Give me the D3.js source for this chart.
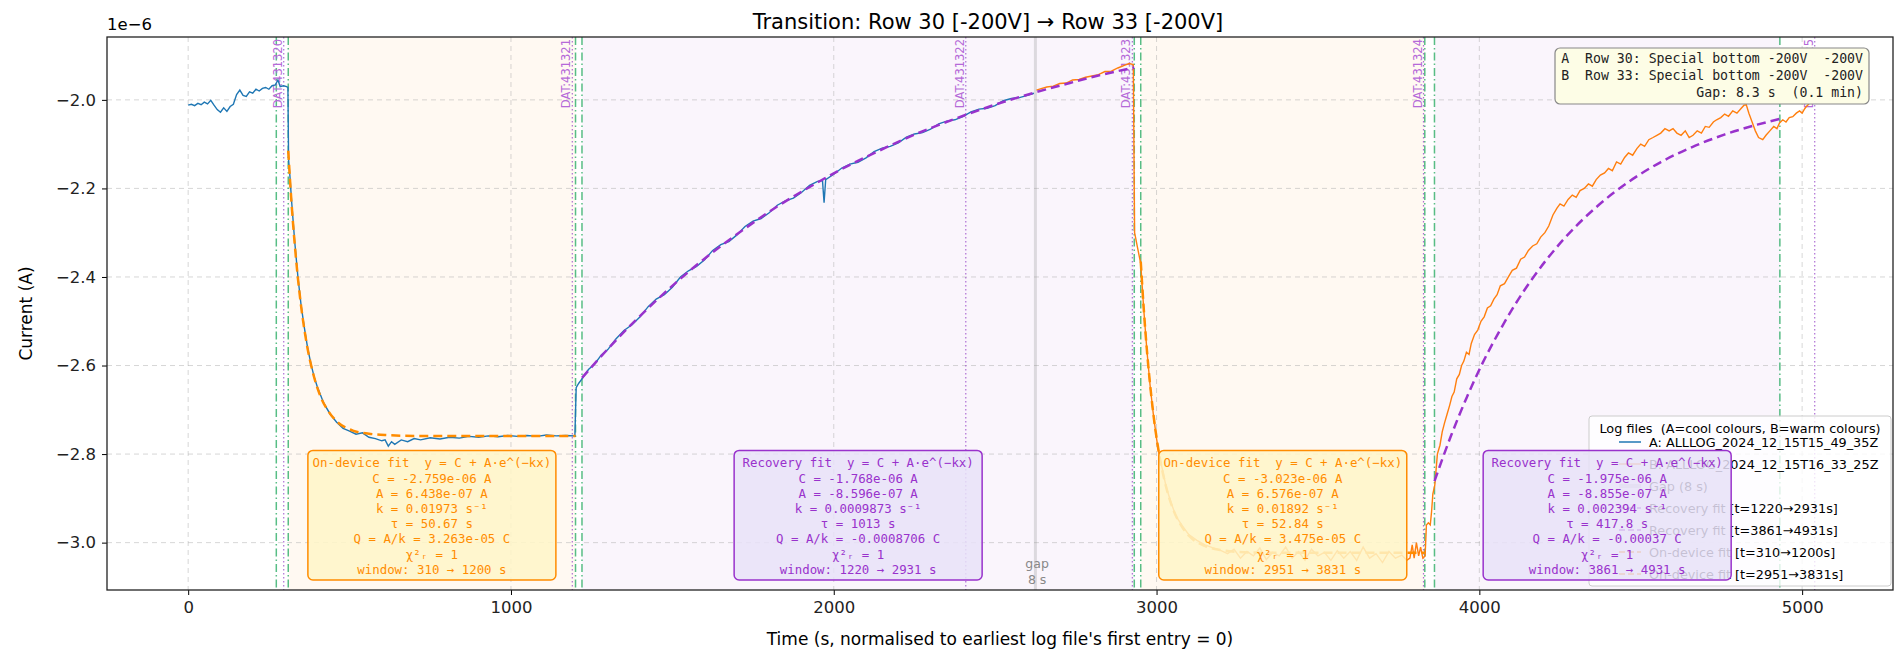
<!DOCTYPE html>
<html>
<head>
<meta charset="utf-8">
<script src="https://cdn.jsdelivr.net/npm/d3@7"></script>
<style>
  body { margin: 0; background: #fff; }
  svg text { font-family: "DejaVu Sans", sans-serif; white-space: pre; }
  svg text.mono { font-family: "DejaVu Sans Mono", monospace; }
</style>
</head>
<body>
<script>
// ---- data (current in units of 1e-6 A, time in s) ----
var logA = [[0,-2.012],[10,-2.010],[20,-2.013],[30,-2.008],[40,-2.011],[50,-2.005],[60,-2.009],[70,-2.001],[80,-2.012],
  [90,-2.022],[100,-2.028],[110,-2.018],[120,-2.026],[130,-2.015],[140,-2.010],[150,-1.988],[160,-1.978],[170,-1.990],
  [180,-1.992],[190,-1.982],[200,-1.985],[210,-1.976],[220,-1.980],[230,-1.974],[240,-1.972],[250,-1.976],[260,-1.968],
  [270,-1.966],[278,-1.955],[285,-1.970],[295,-1.968],[305,-1.970],[309,-1.972],
  [311,-2.135],[315,-2.17],[320,-2.225],[330,-2.32],[340,-2.40],[350,-2.465],[360,-2.515],[370,-2.56],[380,-2.595],
  [390,-2.625],[400,-2.648],[420,-2.685],[440,-2.71],[460,-2.728],[480,-2.742],[500,-2.748],[520,-2.755],[540,-2.752],
  [560,-2.762],[580,-2.765],[600,-2.77],[610,-2.768],[620,-2.782],[630,-2.772],[640,-2.778],[660,-2.768],[680,-2.772],
  [700,-2.765],[720,-2.768],[750,-2.763],[780,-2.766],[810,-2.762],[840,-2.764],[870,-2.760],[900,-2.762],[930,-2.759],
  [960,-2.761],[990,-2.758],[1020,-2.760],[1050,-2.758],[1080,-2.760],[1110,-2.757],[1140,-2.759],[1170,-2.758],[1198,-2.759],
  [1202,-2.650],[1210,-2.640],[1220,-2.630],[1240,-2.609],[1260,-2.596],[1280,-2.576],[1300,-2.564],[1325,-2.540],[1350,-2.521],
  [1375,-2.508],[1400,-2.490],[1425,-2.467],[1450,-2.450],[1475,-2.440],[1500,-2.423],[1525,-2.400],[1550,-2.386],
  [1575,-2.376],[1600,-2.361],[1625,-2.340],[1650,-2.327],[1675,-2.320],[1700,-2.305],[1725,-2.286],[1750,-2.274],
  [1775,-2.268],[1800,-2.255],[1825,-2.238],[1850,-2.228],[1875,-2.222],[1900,-2.209],[1925,-2.193],[1950,-2.184],
  [1965,-2.182],[1970,-2.232],[1975,-2.180],[2000,-2.168],[2025,-2.154],[2050,-2.145],[2075,-2.141],[2100,-2.131],
  [2125,-2.117],[2150,-2.109],[2175,-2.105],[2200,-2.097],[2225,-2.084],[2250,-2.077],[2275,-2.074],[2300,-2.066],
  [2325,-2.054],[2350,-2.048],[2375,-2.045],[2400,-2.038],[2425,-2.027],[2450,-2.021],[2475,-2.019],[2500,-2.013],
  [2525,-2.002],[2550,-1.997],[2575,-1.995],[2600,-1.990],[2620,-1.985]];

var logB = [[2628,-1.978],[2640,-1.975],[2660,-1.971],[2680,-1.969],[2700,-1.963],[2720,-1.962],[2740,-1.955],
  [2760,-1.954],[2780,-1.949],[2800,-1.946],[2820,-1.943],[2840,-1.936],[2860,-1.935],[2880,-1.928],[2900,-1.922],
  [2915,-1.918],[2928,-1.920],
  [2932,-2.30],[2940,-2.33],[2951,-2.37],[2960,-2.47],[2970,-2.565],[2980,-2.645],[2990,-2.71],[3000,-2.765],
  [3010,-2.81],[3020,-2.84],[3030,-2.875],[3045,-2.91],[3060,-2.94],[3080,-2.962],[3100,-2.982],[3125,-2.995],
  [3150,-3.005],[3175,-3.012],[3200,-3.018],[3220,-3.025],[3240,-3.015],[3260,-3.035],[3280,-3.02],[3300,-3.03],
  [3320,-3.012],[3340,-3.038],[3360,-3.022],[3380,-3.03],[3400,-3.01],[3420,-3.035],[3440,-3.02],[3460,-3.04],
  [3480,-3.015],[3500,-3.03],[3520,-3.022],[3540,-3.04],[3560,-3.018],[3580,-3.035],[3600,-3.02],[3620,-3.04],
  [3640,-3.01],[3660,-3.035],[3680,-3.025],[3700,-3.045],[3720,-3.02],[3740,-3.035],[3760,-3.028],[3775,-3.04],
  [3785,-3.035],[3792,-3.005],[3798,-3.035],[3805,-3.0],[3812,-3.03],[3818,-3.01],[3825,-3.035],[3832,-3.03],
  [3836,-2.96],[3842,-2.955],[3848,-2.96],[3852,-2.93],[3856,-2.89],[3862,-2.87],
  [3870,-2.80],[3878,-2.78],[3885,-2.75],[3892,-2.73],[3900,-2.71],[3908,-2.69],[3915,-2.67],[3922,-2.66],[3930,-2.63],
  [3938,-2.62],[3945,-2.60],[3952,-2.59],[3960,-2.57],[3968,-2.575],[3975,-2.55],[3985,-2.53],[3995,-2.52],[4005,-2.50],
  [4015,-2.49],[4025,-2.47],[4035,-2.465],[4045,-2.45],[4055,-2.44],[4065,-2.42],[4078,-2.415],[4090,-2.40],[4102,-2.385],
  [4115,-2.38],[4128,-2.36],[4140,-2.355],[4152,-2.34],[4165,-2.33],[4178,-2.325],[4190,-2.31],[4203,-2.30],[4215,-2.285],
  [4228,-2.26],[4240,-2.245],[4250,-2.235],[4262,-2.24],[4275,-2.225],[4288,-2.215],[4300,-2.22],[4312,-2.205],[4325,-2.20],
  [4338,-2.19],[4350,-2.195],[4362,-2.18],[4375,-2.17],[4388,-2.165],[4400,-2.155],[4412,-2.16],[4425,-2.14],[4438,-2.145],
  [4450,-2.13],[4462,-2.12],[4475,-2.125],[4488,-2.11],[4500,-2.10],[4512,-2.105],[4525,-2.09],[4538,-2.085],[4550,-2.08],
  [4562,-2.075],[4575,-2.065],[4588,-2.07],[4600,-2.065],[4612,-2.075],[4625,-2.08],[4638,-2.07],[4650,-2.085],[4662,-2.08],
  [4675,-2.07],[4688,-2.075],[4700,-2.06],[4712,-2.062],[4725,-2.05],[4735,-2.045],[4748,-2.04],[4760,-2.032],[4772,-2.037],
  [4785,-2.025],[4798,-2.03],[4810,-2.02],[4820,-2.012],[4827,-2.011],[4835,-2.03],[4845,-2.05],[4855,-2.07],[4865,-2.085],
  [4878,-2.09],[4888,-2.08],[4900,-2.07],[4912,-2.06],[4922,-2.065],[4930,-2.052],[4940,-2.045],[4950,-2.05],[4960,-2.04],
  [4971,-2.038],[4982,-2.03],[4992,-2.025],[5000,-2.03],[5008,-2.02],[5013,-2.015],[5020,-2.01],[5030,-2.0]];

// fitted curves, sampled
var fitOnA = [[310,-2.115],[320,-2.231],[330,-2.325],[340,-2.403],[350,-2.467],[360,-2.519],[370,-2.562],[390,-2.626],
  [410,-2.670],[435,-2.704],[460,-2.726],[510,-2.747],[560,-2.754],[610,-2.757],[710,-2.759],[1200,-2.759]];
var fitRecA = [[1220,-2.628],[1320,-2.547],[1420,-2.474],[1520,-2.407],[1620,-2.347],[1720,-2.293],[1820,-2.243],
  [1920,-2.199],[2020,-2.158],[2120,-2.122],[2220,-2.088],[2320,-2.058],[2420,-2.031],[2520,-2.006],[2620,-1.984],
  [2720,-1.964],[2820,-1.945],[2931,-1.927]];
var fitOnB = [[2951,-2.365],[2961,-2.479],[2971,-2.573],[2981,-2.650],[2991,-2.715],[3001,-2.768],[3011,-2.812],
  [3031,-2.878],[3051,-2.924],[3076,-2.961],[3101,-2.985],[3151,-3.008],[3201,-3.017],[3251,-3.021],[3351,-3.023],[3831,-3.023]];
var fitRecB = [[3861,-2.861],[3911,-2.761],[3961,-2.672],[4011,-2.593],[4061,-2.524],[4111,-2.462],[4161,-2.407],
  [4261,-2.315],[4361,-2.243],[4461,-2.186],[4561,-2.141],[4661,-2.106],[4761,-2.078],[4861,-2.056],[4931,-2.043]];

var onWindows = [[310,1200],[2951,3831]];
var recWindows = [[1220,2931],[3861,4931]];
var windowEdges = [273,310,1200,1220,2931,2951,3831,3861,4931];
var datMarks = [[296,'DAT:431320'],[1190,'DAT:431321'],[2409,'DAT:431322'],[2925,'DAT:431323'],[3827,'DAT:431324'],[5039,'DAT:431325']];
var gapAt = [2620,2628];

var onText = [
  ['On-device fit  y = C + A·e^(−kx)','C = -2.759e-06 A','A = 6.438e-07 A','k = 0.01973 s⁻¹','τ = 50.67 s','Q = A/k = 3.263e-05 C','χ²ᵣ = 1','window: 310 → 1200 s'],
  ['On-device fit  y = C + A·e^(−kx)','C = -3.023e-06 A','A = 6.576e-07 A','k = 0.01892 s⁻¹','τ = 52.84 s','Q = A/k = 3.475e-05 C','χ²ᵣ = 1','window: 2951 → 3831 s']];
var recText = [
  ['Recovery fit  y = C + A·e^(−kx)','C = -1.768e-06 A','A = -8.596e-07 A','k = 0.0009873 s⁻¹','τ = 1013 s','Q = A/k = -0.0008706 C','χ²ᵣ = 1','window: 1220 → 2931 s'],
  ['Recovery fit  y = C + A·e^(−kx)','C = -1.975e-06 A','A = -8.855e-07 A','k = 0.002394 s⁻¹','τ = 417.8 s','Q = A/k = -0.00037 C','χ²ᵣ = 1','window: 3861 → 4931 s']];
var infoLines = ['A  Row 30: Special bottom -200V  -200V','B  Row 33: Special bottom -200V  -200V','Gap: 8.3 s  (0.1 min)'];
var legendItems = [
  ['A: ALLLOG_2024_12_15T15_49_35Z','#1f77b4','solid'],
  ['B: ALLLOG_2024_12_15T16_33_25Z','#ff7f0e','solid'],
  ['Gap (8 s)','#bbbbbb','gap'],
  ['Recovery fit [t=1220→2931s]','#9932cc','dash'],
  ['Recovery fit [t=3861→4931s]','#9932cc','dash'],
  ['On-device fit [t=310→1200s]','#ff8c00','dash'],
  ['On-device fit [t=2951→3831s]','#ff8c00','dash']];
var xTicks = [0,1000,2000,3000,4000,5000];
var yTicks = [-3.0,-2.8,-2.6,-2.4,-2.2,-2.0];

// ---- layout ----
var W = 1897, H = 650;
var m = {left: 107, right: 4, top: 37, bottom: 60};
var svg = d3.select('body').append('svg').attr('width', W).attr('height', H);
var x = d3.scaleLinear().domain([-251.5, 5281.5]).range([m.left, W - m.right]);
var y = d3.scaleLinear().domain([-3.107, -1.858]).range([H - m.bottom, m.top]);
var x0 = m.left, x1 = W - m.right, y0 = m.top, y1 = H - m.bottom;

svg.append('defs').append('clipPath').attr('id', 'clip')
  .append('rect').attr('x', x0).attr('y', y0).attr('width', x1 - x0).attr('height', y1 - y0);
var g = svg.append('g').attr('clip-path', 'url(#clip)');

// spans
g.selectAll('rect.on').data(onWindows).enter().append('rect')
  .attr('x', d => x(d[0])).attr('width', d => x(d[1]) - x(d[0]))
  .attr('y', y0).attr('height', y1 - y0).attr('fill', '#ff8c00').attr('opacity', 0.05);
g.selectAll('rect.rec').data(recWindows).enter().append('rect')
  .attr('x', d => x(d[0])).attr('width', d => x(d[1]) - x(d[0]))
  .attr('y', y0).attr('height', y1 - y0).attr('fill', '#9932cc').attr('opacity', 0.05);

// grid
g.selectAll('line.gx').data(xTicks).enter().append('line')
  .attr('x1', d => x(d)).attr('x2', d => x(d)).attr('y1', y0).attr('y2', y1)
  .attr('stroke', '#b0b0b0').attr('stroke-opacity', 0.5).attr('stroke-dasharray', '5,4');
g.selectAll('line.gy').data(yTicks).enter().append('line')
  .attr('y1', d => y(d)).attr('y2', d => y(d)).attr('x1', x0).attr('x2', x1)
  .attr('stroke', '#b0b0b0').attr('stroke-opacity', 0.5).attr('stroke-dasharray', '5,4');

// gap band
g.append('rect').attr('x', x(gapAt[0])).attr('width', Math.max(3, x(gapAt[1]) - x(gapAt[0])))
  .attr('y', y0).attr('height', y1 - y0).attr('fill', '#999').attr('opacity', 0.3);

// window edges
g.selectAll('line.we').data(windowEdges).enter().append('line')
  .attr('x1', d => x(d)).attr('x2', d => x(d)).attr('y1', y0).attr('y2', y1)
  .attr('stroke', '#3cb371').attr('stroke-width', 1.5).attr('stroke-dasharray', '8,3,1.5,3').attr('opacity', 0.85);

// DAT markers
g.selectAll('line.dat').data(datMarks).enter().append('line')
  .attr('x1', d => x(d[0])).attr('x2', d => x(d[0])).attr('y1', y0).attr('y2', y1)
  .attr('stroke', '#9b4dca').attr('stroke-width', 1.2).attr('stroke-dasharray', '1.5,2.5').attr('opacity', 0.8);
g.selectAll('text.dat').data(datMarks).enter().append('text')
  .attr('transform', d => 'translate(' + (x(d[0]) - 2) + ',' + (y0 + 2) + ') rotate(-90)')
  .attr('text-anchor', 'end').attr('font-size', 11.5).attr('fill', '#b56ad8').text(d => d[1]);

// data lines
var line = d3.line().x(d => x(d[0])).y(d => y(d[1]));
g.append('path').datum(logA).attr('d', line).attr('fill', 'none').attr('stroke', '#1f77b4').attr('stroke-width', 1.4);
g.append('path').datum(logB).attr('d', line).attr('fill', 'none').attr('stroke', '#ff7f0e').attr('stroke-width', 1.4);

// fits
var fitLine = d3.line().x(d => x(d[0])).y(d => y(d[1])).curve(d3.curveMonotoneX);
[fitOnA, fitOnB].forEach(function (f) {
  g.append('path').datum(f).attr('d', fitLine).attr('fill', 'none')
    .attr('stroke', '#ff8c00').attr('stroke-width', 2.5).attr('stroke-dasharray', '9,5');
});
[fitRecA, fitRecB].forEach(function (f) {
  g.append('path').datum(f).attr('d', fitLine).attr('fill', 'none')
    .attr('stroke', '#9932cc').attr('stroke-width', 2.5).attr('stroke-dasharray', '9,5');
});

// gap text
g.append('text').attr('x', x(2630)).attr('y', y1 - 22).attr('text-anchor', 'middle')
  .attr('font-size', 12.5).attr('fill', '#888').text('gap');
g.append('text').attr('x', x(2630)).attr('y', y1 - 6).attr('text-anchor', 'middle')
  .attr('font-size', 12.5).attr('fill', '#888').text('8 s');

// legend
var lg = svg.append('g').attr('transform', 'translate(1589,416)');
lg.append('rect').attr('width', 302).attr('height', 170).attr('rx', 3)
  .attr('fill', '#fff').attr('fill-opacity', 0.8).attr('stroke', '#ccc');
lg.append('text').attr('x', 151).attr('y', 17).attr('text-anchor', 'middle').attr('font-size', 12.8)
  .text('Log files  (A=cool colours, B=warm colours)');
var li = lg.selectAll('g.li').data(legendItems).enter().append('g')
  .attr('transform', (d, i) => 'translate(0,' + (26 + i * 22) + ')');
li.append('line').attr('x1', 30).attr('x2', 52).attr('y1', 0).attr('y2', 0)
  .attr('stroke', d => d[1]).attr('stroke-width', d => d[2] === 'gap' ? 4 : (d[2] === 'dash' ? 2 : 1.5))
  .attr('stroke-opacity', d => d[2] === 'gap' ? 0.6 : 1)
  .attr('stroke-dasharray', d => d[2] === 'dash' ? '6,3' : null);
li.append('text').attr('x', 60).attr('y', 5).attr('font-size', 12.8).text(d => d[0]);

// fit text boxes
function textBox(lines, cx, fill, stroke, color) {
  var lh = 15.2, pad = 6, w = 248, h = lines.length * lh + pad * 2 - 4;
  var bg = svg.append('g').attr('transform', 'translate(' + cx + ',' + (y1 - 10 - h) + ')');
  bg.append('rect').attr('x', -w / 2).attr('y', 0).attr('width', w).attr('height', h).attr('rx', 5)
    .attr('fill', fill).attr('fill-opacity', 0.85).attr('stroke', stroke).attr('stroke-width', 1.5);
  bg.selectAll('text').data(lines).enter().append('text').attr('class', 'mono')
    .attr('x', 0).attr('y', (d, i) => pad + 11 + i * lh).attr('text-anchor', 'middle')
    .attr('font-size', 12.4).attr('fill', color).text(d => d);
}
onWindows.forEach(function (w, i) {
  textBox(onText[i], x((w[0] + w[1]) / 2), '#fff6c8', '#ff8c00', '#ff8c00');
});
recWindows.forEach(function (w, i) {
  textBox(recText[i], x((w[0] + w[1]) / 2), '#e8e2f8', '#9932cc', '#9932cc');
});

// info box
var ib = svg.append('g').attr('transform', 'translate(1555,48)');
ib.append('rect').attr('width', 314).attr('height', 56).attr('rx', 5)
  .attr('fill', '#fdfde6').attr('stroke', '#888').attr('stroke-width', 1.2);
ib.selectAll('text').data(infoLines).enter().append('text').attr('class', 'mono')
  .attr('x', 308).attr('y', (d, i) => 15 + i * 17).attr('text-anchor', 'end')
  .attr('font-size', 13.2).attr('fill', '#222').text(d => d);

// axes
svg.append('g').attr('transform', 'translate(0,' + y1 + ')')
  .call(d3.axisBottom(x).tickValues(xTicks).tickFormat(d3.format('d')).tickSize(5).tickPadding(6))
  .call(a => a.selectAll('text').attr('font-size', 16.5).attr('fill', '#222'))
  .call(a => a.select('.domain').remove());
svg.append('g').attr('transform', 'translate(' + x0 + ',0)')
  .call(d3.axisLeft(y).tickValues(yTicks).tickFormat(d => d3.format('.1f')(d).replace('-', '−')).tickSize(5).tickPadding(6))
  .call(a => a.selectAll('text').attr('font-size', 16.5).attr('fill', '#222'))
  .call(a => a.select('.domain').remove());
svg.append('rect').attr('x', x0).attr('y', y0).attr('width', x1 - x0).attr('height', y1 - y0)
  .attr('fill', 'none').attr('stroke', '#222').attr('stroke-width', 1.3);

svg.append('text').attr('x', x0).attr('y', 30).attr('font-size', 16.5).text('1e−6');
svg.append('text').attr('x', 988).attr('y', 29).attr('text-anchor', 'middle')
  .attr('font-size', 21).text('Transition: Row 30 [-200V] → Row 33 [-200V]');
svg.append('text').attr('x', (x0 + x1) / 2).attr('y', 645).attr('text-anchor', 'middle')
  .attr('font-size', 17).text("Time (s, normalised to earliest log file's first entry = 0)");
svg.append('text').attr('transform', 'translate(32,' + ((y0 + y1) / 2) + ') rotate(-90)')
  .attr('text-anchor', 'middle').attr('font-size', 17).text('Current (A)');
</script>
</body>
</html>
